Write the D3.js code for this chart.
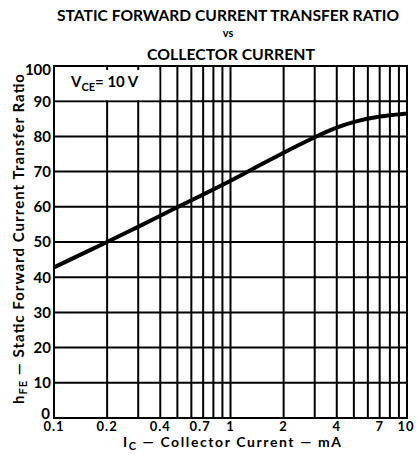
<!DOCTYPE html>
<html>
<head>
<meta charset="utf-8">
<script src="https://cdn.jsdelivr.net/npm/d3@7"></script>
<style>
  body { margin: 0; background: #fff; }
  text { font-family: "Lato", "DejaVu Sans", sans-serif; font-weight: bold; fill: #000; }
</style>
</head>
<body>
<svg id="chart" width="419" height="460"></svg>
<script>
// collector current (mA) and hFE
var currentMA = [0.1, 0.2, 0.3, 0.5, 0.7, 1, 1.5, 2, 3, 4, 5, 7, 10];
var hfeValues = [42.8, 50, 54.3, 59.9, 63.5, 67.3, 72.1, 75.4, 79.8, 82.6, 84.2, 85.8, 86.5];

var xTickLabels = [0.1, 0.2, 0.4, 0.7, 1, 2, 4, 7, 10];
var yTickLabels = [0, 10, 20, 30, 40, 50, 60, 70, 80, 90, 100];
var xGridValues = [0.2, 0.3, 0.4, 0.5, 0.6, 0.7, 0.8, 0.9, 1, 2, 3, 4, 5, 6, 7, 8, 9];

var margin = { top: 66, right: 12, bottom: 42, left: 54 };
var W = 419, H = 460;
var w = W - margin.left - margin.right,
    h = H - margin.top - margin.bottom;

var svg = d3.select("#chart");

var x = d3.scaleLog().domain([0.1, 10]).range([0, w]);
var y = d3.scaleLinear().domain([0, 100]).range([h, 0]);

// titles
svg.append("text").attr("x", 228).attr("y", 21).attr("text-anchor", "middle")
    .style("font-size", "16px").attr("textLength", 342).attr("lengthAdjust", "spacingAndGlyphs")
    .text("STATIC FORWARD CURRENT TRANSFER RATIO");
svg.append("text").attr("x", 228).attr("y", 37).attr("text-anchor", "middle")
    .style("font-size", "11px").text("vs");
svg.append("text").attr("x", 231).attr("y", 60).attr("text-anchor", "middle")
    .style("font-size", "16px").attr("textLength", 168).attr("lengthAdjust", "spacingAndGlyphs")
    .text("COLLECTOR CURRENT");

var g = svg.append("g").attr("transform", "translate(" + margin.left + "," + margin.top + ")");

// grid
g.selectAll(".vgrid").data(xGridValues).enter().append("line")
    .attr("class", "vgrid")
    .attr("x1", d => x(d)).attr("x2", d => x(d))
    .attr("y1", 0).attr("y2", h)
    .style("stroke", "#000").style("stroke-width", 2);

g.selectAll(".hgrid").data(yTickLabels.slice(1, -1)).enter().append("line")
    .attr("class", "hgrid")
    .attr("x1", 0).attr("x2", w)
    .attr("y1", d => y(d)).attr("y2", d => y(d))
    .style("stroke", "#000").style("stroke-width", 2);

// box behind the V_CE label
g.append("rect")
    .attr("x", 1).attr("y", 4)
    .attr("width", x(0.4) - 2).attr("height", y(90) - 5)
    .style("fill", "#fff");

var vce = g.append("text").attr("x", 17).attr("y", 21).style("font-size", "15px");
vce.append("tspan").text("V");
vce.append("tspan").attr("dy", 4).style("font-size", "11px").text("CE");
vce.append("tspan").attr("dy", -4).text("= 10 V");

// frame
g.append("rect").attr("x", 0).attr("y", 0).attr("width", w).attr("height", h)
    .style("fill", "none").style("stroke", "#000").style("stroke-width", 2);

// curve
var line = d3.line()
    .x((d, i) => x(currentMA[i]))
    .y(d => y(d))
    .curve(d3.curveBasis);

g.append("path").datum(hfeValues)
    .attr("d", line)
    .style("fill", "none").style("stroke", "#000").style("stroke-width", 4)
    .style("stroke-linecap", "butt");

// y tick labels
g.selectAll(".ylab").data(yTickLabels).enter().append("text")
    .attr("class", "ylab")
    .attr("x", d => d === 0 ? -4 : -3)
    .attr("y", d => y(d) + (d === 100 ? 4 : d === 0 ? -4 : 0))
    .attr("dy", "0.36em")
    .attr("text-anchor", "end")
    .style("font-size", "15px")
    .text(d => d);

// x tick labels
g.selectAll(".xlab").data(xTickLabels).enter().append("text")
    .attr("class", "xlab")
    .attr("x", d => x(d) + (d === 10 ? -1 : d === 0.7 ? -3 : 0))
    .attr("y", h + 13)
    .attr("text-anchor", "middle")
    .style("font-size", "13px")
    .style("letter-spacing", "1px")
    .text(d => d);

// x axis title
var xt = svg.append("text").attr("x", 232).attr("y", 447).attr("text-anchor", "middle")
    .style("font-size", "14px").attr("textLength", 218).attr("lengthAdjust", "spacing");
xt.append("tspan").text("I");
xt.append("tspan").attr("dy", 3).style("font-size", "11px").text("C");
xt.append("tspan").attr("dy", -3).text(" \u2014 Collector Current \u2014 mA");

// y axis title
var yt = svg.append("text")
    .attr("transform", "translate(24," + 239 + ") rotate(-90)")
    .attr("text-anchor", "middle")
    .style("font-size", "15px").attr("textLength", 330).attr("lengthAdjust", "spacing");
yt.append("tspan").text("h");
yt.append("tspan").attr("dy", 3).style("font-size", "11px").text("FE");
yt.append("tspan").attr("dy", -3).text(" \u2014 Static Forward Current Transfer Ratio");
</script>
</body>
</html>
